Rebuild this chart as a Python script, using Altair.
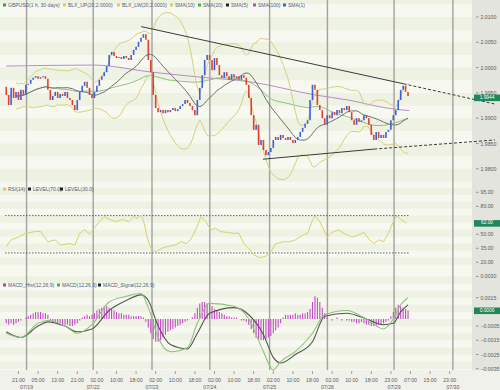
import altair as alt
import pandas as pd

# ---------------- data ----------------
closes = [
    1.9946, 1.9926, 1.9960, 1.9940, 1.9952, 1.9936, 1.9956, 1.9946, 1.9966, 1.9968,
    1.9976, 1.9980, 1.9983, 1.9978, 1.9981, 1.9983, 1.9978, 1.9956, 1.9936, 1.9944,
    1.9952, 1.9940, 1.9948, 1.9944, 1.9952, 1.9940, 1.9936, 1.9926, 1.9916, 1.9936,
    1.9952, 1.9964, 1.9972, 1.9960, 1.9946, 1.9940, 1.9952, 1.9964, 1.9976, 1.9983,
    1.9991, 2.0003, 2.0025, 2.0031, 2.0023, 2.0019, 2.0021, 2.0017, 2.0023, 2.0019,
    2.0015, 2.0025, 2.0035, 2.0041, 2.0051, 2.0059, 2.0066, 2.0055, 2.0015, 1.9991,
    1.9946, 1.9920, 1.9912, 1.9916, 1.9910, 1.9916, 1.9912, 1.9916, 1.9920, 1.9914,
    1.9918, 1.9924, 1.9928, 1.9936, 1.9930, 1.9924, 1.9916, 1.9906, 1.9936, 1.9960,
    1.9985, 2.0015, 2.0025, 2.0015, 1.9995, 2.0019, 2.0005, 1.9985, 1.9980, 1.9991,
    1.9983, 1.9976, 1.9987, 1.9980, 1.9983, 1.9976, 1.9985, 1.9980, 1.9966, 1.9940,
    1.9906, 1.9877, 1.9887, 1.9847, 1.9857, 1.9837, 1.9827, 1.9833, 1.9841, 1.9857,
    1.9863, 1.9857, 1.9867, 1.9861, 1.9857, 1.9863, 1.9857, 1.9851, 1.9857, 1.9863,
    1.9873, 1.9881, 1.9889, 1.9896, 1.9936, 1.9966, 1.9956, 1.9926, 1.9916, 1.9900,
    1.9887, 1.9906, 1.9900, 1.9912, 1.9906, 1.9916, 1.9910, 1.9920, 1.9916, 1.9924,
    1.9912, 1.9896, 1.9887, 1.9900, 1.9893, 1.9896, 1.9906, 1.9900, 1.9887, 1.9867,
    1.9857, 1.9873, 1.9861, 1.9867, 1.9861, 1.9873, 1.9877, 1.9896, 1.9906, 1.9916,
    1.9936, 1.9956, 1.9964, 1.9952, 1.9944,
]
first_open = 1.9962

purple_bars = [0, 35.5, 59.5, 79.5, 99.5, 126, 139.5, 155.5, 164.5]
purple_vals = [2.0003, 2.0005, 1.9991, 1.9981, 1.9972, 1.9946, 1.9936, 1.9920, 1.9915]

upper_trend_bars = [55.1, 162.2, 199.5]
upper_trend_vals = [2.0081, 1.9968, 1.9928]
lower_trend_bars = [104.8, 150.2, 199.5]
lower_trend_vals = [1.9819, 1.9839, 1.9857]

rsi_bars = [0, 2, 5, 8, 12, 14, 17, 20, 22, 26, 28, 30, 32, 34, 36, 38, 40, 42, 45, 47.5,
            50, 52, 53.5, 55, 56, 57.5, 59, 61, 63.5, 66, 69, 71.5, 73.5, 75.5, 77.5, 79.5,
            81.5, 83.5, 85.5, 87.5, 90, 93, 95, 97, 99, 101, 103.5, 106, 108, 110, 113,
            115.5, 118, 121, 123, 125, 126, 128, 131, 133, 135.5, 138, 141, 143.5, 146,
            148, 150, 152, 154, 156, 158, 159.5, 161.5, 163.5]
rsi_vals = [37, 44, 47, 51, 53, 53, 42, 44, 38.5, 40, 38.5, 51, 55, 50, 57, 63.5, 69, 66,
            63.5, 66, 63.5, 69, 67, 70.6, 65, 47, 35, 31, 35, 37, 38.5, 42, 40, 45, 56, 69,
            63.5, 54.6, 56.5, 53, 52, 51, 51, 40, 35, 28, 25, 26.5, 31, 40, 42, 42, 44, 49,
            51, 65, 69.6, 63.5, 47, 52, 54.6, 51, 47, 49, 52, 45, 40, 44, 42, 51, 63.5, 69.6,
            65, 62]
rsi_levels = [70, 30]

macd_bars = [0, 6, 13, 17, 24, 29, 35, 42, 49, 55, 58, 62, 67, 74, 78, 83, 93, 99, 105,
             109, 112, 118, 125, 130, 139, 147, 154, 158, 161, 164]
macd_vals = [-0.0010, -0.0013, -0.0003, -0.0001, -0.0005, -0.0010, -0.0004, 0.0012, 0.0016,
             0.0018, 0.0008, -0.0013, -0.0023, -0.0020, -0.0003, 0.0011, 0.0009, 0.0000,
             -0.0023, -0.0037, -0.0030, -0.0023, -0.0010, 0.0003, 0.0006, 0.0000, -0.0007,
             0.0000, 0.0010, 0.0015]
signal_vals = [-0.0009, -0.0013, -0.0005, -0.0002, -0.0005, -0.0009, -0.0007, 0.0006, 0.0013,
               0.0017, 0.0013, -0.0005, -0.0018, -0.0021, -0.0010, 0.0004, 0.0008, 0.0003,
               -0.0011, -0.0027, -0.0031, -0.0025, -0.0016, 0.0002, 0.0004, 0.0000, -0.0004,
               -0.0003, 0.0005, 0.0010]
# histogram, in units of 0.0001, one per bar
hist_vals = [
    -3, -4, -3, -4, -3, -2, -1,
    0, 1,
    2, 3, 4, 5, 5, 5, 4, 4, 3,
    -1, -2, -2, -3, -3, -4, -4, -4, -5, -5, -4, -3,
    -1, 1, 2, 3, 2,
    3, 4, 6, 7, 8, 9, 9, 8, 7, 6, 5, 4,
    4, 3, 3, 3, 2, 2, 2, 2, 2, 1,
    -2, -6, -10, -14, -16, -16, -15, -13, -11, -9,
    -8, -7, -6, -5, -4, -3, -2, -1,
    0, 1,
    4, 8, 11, 12, 12, 11, 10, 9, 7,
    6, 5, 4, 3, 2, 2, 1, 1,
    1, 0, -1, -1, -2, -4,
    -7, -10, -13, -14, -15, -15, -14, -13, -12, -10, -8, -6,
    -3, 1,
    3, 3, 3, 3, 4, 3, 3, 4, 4, 5, 7,
    12, 16, 15, 12, 8, 4,
    1, 0, -1, 0, 1, 0, -1, 0, -1,
    -1, -2, -2, -3, -3, -2, -3, -4, -4, -5, -5, -5, -4, -4, -3, -2, -1,
    2, 5, 8, 10, 9, 8, 7, 6,
]

# axis labels (the ones hidden under the current-value boxes are left out)
price_ticks = [2.0100, 2.0050, 2.0000, 1.9950, 1.9900, 1.9850, 1.9800]
rsi_ticks = [95, 80, 50, 35, 20]
macd_ticks = [0.0030, 0.0015, -0.0005, -0.0015, -0.0025, -0.0035]

time_tick_bars = [5, 13, 21, 29, 37, 45, 53, 61, 69, 77, 85, 93, 101, 109, 117, 125, 133,
                  141, 149, 157, 165, 173, 181]
time_labels = ["21:00", "05:00", "13:00", "21:00", "02:00", "10:00", "18:00", "02:00",
               "10:00", "18:00", "02:00", "10:00", "18:00", "02:00", "10:00", "18:00",
               "02:00", "10:00", "18:00", "23:00", "07:00", "15:00", "23:00"]
day_bars = [8.3, 35.5, 59.5, 83.1, 107.5, 131.1, 158.3, 182.3]
day_labels = ["07/19", "07/22", "07/23", "07/24", "07/25", "07/26", "07/29", "07/30"]

main_legend = ["GBPUSD(1 h, 30 days)", "BLX_UP(20,2.0000)", "BLX_LW(20,2.0000)", "SMA(10)",
               "SMA(20)", "SMA(5)", "SMA(100)", "SMA(1)"]
main_legend_colors = ["#3c9a4a", "#d8cf5a", "#d8cf5a", "#d8cf5a", "#5aa84a", "#222222",
                      "#b050b0", "#4a60c8"]
rsi_legend = ["RSI(14)", "LEVEL(70.0)", "LEVEL(30.0)"]
rsi_legend_colors = ["#d8cf5a", "#222222", "#222222"]
macd_legend = ["MACD_Hist(12,26,9)", "MACD(12,26,9)", "MACD_Signal(12,26,9)"]
macd_legend_colors = ["#b040b0", "#5aa84a", "#222222"]

# ---------------- tables ----------------
n = len(closes)
opens = [first_open] + closes[:-1]
price_df = pd.DataFrame({"i": list(range(n)), "open": opens, "close": closes})
purple_df = pd.DataFrame({"b": purple_bars, "v": purple_vals})
rsi_df = pd.DataFrame({"b": rsi_bars, "v": rsi_vals})
macd_df = pd.DataFrame({"b": macd_bars, "m": macd_vals, "s": signal_vals})
hist_df = pd.DataFrame({"i": list(range(len(hist_vals))), "h": [h / 10000 for h in hist_vals]})
sep_df = pd.DataFrame({"b": day_bars})
date_df = pd.DataFrame({"db": day_bars, "d": day_labels})
tick_df = pd.DataFrame({"b": time_tick_bars, "t": time_labels})

# ---------------- layout / styling ----------------
W, H = 500, 390
AX0 = 472
P1, P2, P3 = (0, 184), (184, 270), (270, 370)   # pixel spans of the three panels
FONT = "Liberation Sans"
LBL = "#5d5d5d"
XS = alt.Scale(domain=[-0.5, 199.5], range=[0, W], nice=False, zero=False)


def yscale(domain, span):
    return alt.Scale(domain=domain, range=[span[1], span[0]], nice=False, zero=False, clamp=True)


YS1 = yscale([1.97700, 2.01336], P1)
YS2 = yscale([11.7, 103.9], P2)
YS3 = yscale([-0.00359, 0.00345], P3)


def X(f):
    return alt.X(f, scale=XS, axis=None)


def Y(f, ys):
    return alt.Y(f, scale=ys, axis=None)


def one():
    return alt.Chart(pd.DataFrame({"a": [0]}))


layers = []


def bands(lo, hi, step, ys):
    edges = []
    v = lo
    while v <= hi + 1e-12:
        edges.append(round(v, 8))
        v += step
    df = pd.DataFrame({"y1": edges[:-1], "y2": edges[1:], "k": list(range(len(edges) - 1))})
    return alt.Chart(df).mark_rect().encode(
        x=alt.value(0), x2=alt.value(AX0),
        y=Y("y1:Q", ys), y2="y2:Q",
        color=alt.condition(alt.datum.k % 2 == 0, alt.value("#f7f8ef"), alt.value("#eef2e3")),
    )


def right_labels(vals, ys, fmt):
    df = pd.DataFrame({"v": vals})
    ticks = alt.Chart(df).mark_rule(color="#7a7a7a", strokeWidth=0.8).encode(
        x=alt.value(476), x2=alt.value(478.5), y=Y("v:Q", ys))
    text = alt.Chart(df).mark_text(align="left", baseline="middle", fontSize=5.2,
                                   font=FONT, color=LBL).encode(
        x=alt.value(480.5), y=Y("v:Q", ys), text=alt.Text("v:Q", format=fmt))
    return [ticks, text]


def value_box(v, ys, fmt, up=3.0, down=3.6):
    df = pd.DataFrame({"v": [v]})
    box = alt.Chart(df).mark_rect(color="#21865a", yOffset=-up, y2Offset=down).encode(
        x=alt.value(474), x2=alt.value(W), y=Y("v:Q", ys), y2="v:Q")
    txt = alt.Chart(df).mark_text(align="center", baseline="middle", fontSize=4.8,
                                  font=FONT, color="white", dy=(down - up) / 2).encode(
        x=alt.value(487), y=Y("v:Q", ys), text=alt.Text("v:Q", format=fmt))
    return [box, txt]


def legend(labels, colors, xs, y):
    out = []
    for lab, col, x0 in zip(labels, colors, xs):
        out.append(one().mark_square(size=9, color=col, opacity=1).encode(
            x=alt.value(x0 + 1.5), y=alt.value(y)))
        out.append(one().mark_text(text=lab, align="left", baseline="middle",
                                   fontSize=5, font=FONT, color="#56607a").encode(
            x=alt.value(x0 + 5), y=alt.value(y)))
    return out


def seg_line(bars, vals, color, dash=None, width=1.0):
    df = pd.DataFrame({"b": bars, "v": vals})
    kw = dict(color=color, strokeWidth=width)
    if dash:
        kw["strokeDash"] = dash
    return alt.Chart(df).mark_line(**kw).encode(x=X("b:Q"), y=Y("v:Q", YS1))


# backgrounds
layers += [bands(1.9750, 2.0150, 0.0025, YS1), bands(10, 110, 7.5, YS2),
           bands(-0.0040, 0.0040, 0.0005, YS3)]
layers.append(one().mark_rect(color="#e4e4de").encode(
    x=alt.value(AX0), x2=alt.value(W), y=alt.value(0), y2=alt.value(P3[1])))
layers.append(alt.Chart(sep_df).mark_rule(color="#a2a2a2", strokeWidth=1.4).encode(
    x=X("b:Q"), y=alt.value(0), y2=alt.value(P3[1])))

# ---------------- main price panel ----------------
ind = alt.Chart(price_df).transform_window(
    sma20="mean(close)", sd20="stdev(close)", frame=[-19, 0], sort=[alt.SortField("i")]
).transform_window(
    sma50="mean(close)", frame=[-49, 0], sort=[alt.SortField("i")]
).transform_calculate(
    bbu="datum.sma20 + 2 * datum.sd20", bbl="datum.sma20 - 2 * datum.sd20"
).transform_filter(alt.datum.i >= 4)

layers.append(alt.Chart(purple_df).mark_line(color="#b88ccc", strokeWidth=1,
                                             interpolate="monotone").encode(
    x=X("b:Q"), y=Y("v:Q", YS1)))
layers.append(ind.mark_line(color="#8fc07a", strokeWidth=1).encode(x=X("i:Q"), y=Y("sma50:Q", YS1)))
layers.append(ind.mark_line(color="#d6d07e", strokeWidth=1).encode(x=X("i:Q"), y=Y("bbu:Q", YS1)))
layers.append(ind.mark_line(color="#d6d07e", strokeWidth=1).encode(x=X("i:Q"), y=Y("bbl:Q", YS1)))
layers.append(alt.Chart(price_df).mark_bar(width=1.6).encode(
    x=X("i:Q"), y=Y("open:Q", YS1), y2="close:Q",
    color=alt.condition(alt.datum.close >= alt.datum.open,
                        alt.value("#3e5fd8"), alt.value("#e0402c")),
))
layers.append(ind.mark_line(color="#6e6e6e", strokeWidth=1).encode(x=X("i:Q"), y=Y("sma20:Q", YS1)))
layers += [
    seg_line(upper_trend_bars[:2], upper_trend_vals[:2], "#3a3a3a"),
    seg_line(upper_trend_bars[1:], upper_trend_vals[1:], "#3a3a3a", dash=[3, 2]),
    seg_line(lower_trend_bars[:2], lower_trend_vals[:2], "#3a3a3a"),
    seg_line(lower_trend_bars[1:], lower_trend_vals[1:], "#3a3a3a", dash=[3, 2]),
]
layers += right_labels(price_ticks, YS1, ".4f")
layers += value_box(closes[-1], YS1, ".4f", up=1.4, down=5.2)
layers += legend(main_legend, main_legend_colors, [3, 63, 117, 170, 198, 226, 253, 283], 5)

# ---------------- RSI panel ----------------
lvl_df = pd.DataFrame({"v": rsi_levels, "x1": [-0.5, -0.5], "x2": [n - 0.5, n - 0.5]})
layers.append(alt.Chart(lvl_df).mark_rule(color="#555555", strokeWidth=0.9,
                                          strokeDash=[1.5, 1.5]).encode(
    x=X("x1:Q"), x2="x2:Q", y=Y("v:Q", YS2)))
layers.append(alt.Chart(rsi_df).mark_line(color="#d9d16a", strokeWidth=1).encode(
    x=X("b:Q"), y=Y("v:Q", YS2)))
layers += right_labels(rsi_ticks, YS2, ".2f")
layers += value_box(rsi_vals[-1], YS2, ".2f")
layers += legend(rsi_legend, rsi_legend_colors, [3, 28, 60], P2[0] + 5)

# ---------------- MACD panel ----------------
layers.append(alt.Chart(hist_df).mark_bar(width=1.1, color="#c04cc4").encode(
    x=X("i:Q"), y=Y("h:Q", YS3), y2=alt.datum(0)))
layers.append(alt.Chart(macd_df).mark_line(color="#555555", strokeWidth=1.1,
                                           interpolate="monotone").encode(
    x=X("b:Q"), y=Y("s:Q", YS3)))
layers.append(alt.Chart(macd_df).mark_line(color="#8cc47a", strokeWidth=1.1,
                                           interpolate="monotone").encode(
    x=X("b:Q"), y=Y("m:Q", YS3)))
layers += right_labels(macd_ticks, YS3, ".4f")
layers += value_box(hist_vals[-1] / 10000, YS3, ".4f")
layers += legend(macd_legend, macd_legend_colors, [3, 57, 98], P3[0] + 15)

# ---------------- time axis ----------------
layers.append(alt.Chart(tick_df).mark_rule(color="#8a8a8a", strokeWidth=0.8).encode(
    x=X("b:Q"), y=alt.value(P3[1] + 1), y2=alt.value(P3[1] + 4)))
layers.append(alt.Chart(tick_df).mark_text(fontSize=5.2, font=FONT, color=LBL,
                                           baseline="middle").encode(
    x=X("b:Q"), y=alt.value(P3[1] + 9.5), text="t:N"))
layers.append(alt.Chart(date_df).mark_text(fontSize=5.2, font=FONT, color=LBL,
                                           baseline="middle").encode(
    x=X("db:Q"), y=alt.value(P3[1] + 17), text="d:N"))

chart = alt.layer(*layers).resolve_scale(y="independent").properties(
    width=W, height=H, padding=0, background="#f1f1eb",
    autosize=alt.AutoSizeParams(type="none"),
).configure_view(stroke=None)

chart.save("out.html", embed_options={"renderer": "svg", "actions": False})
